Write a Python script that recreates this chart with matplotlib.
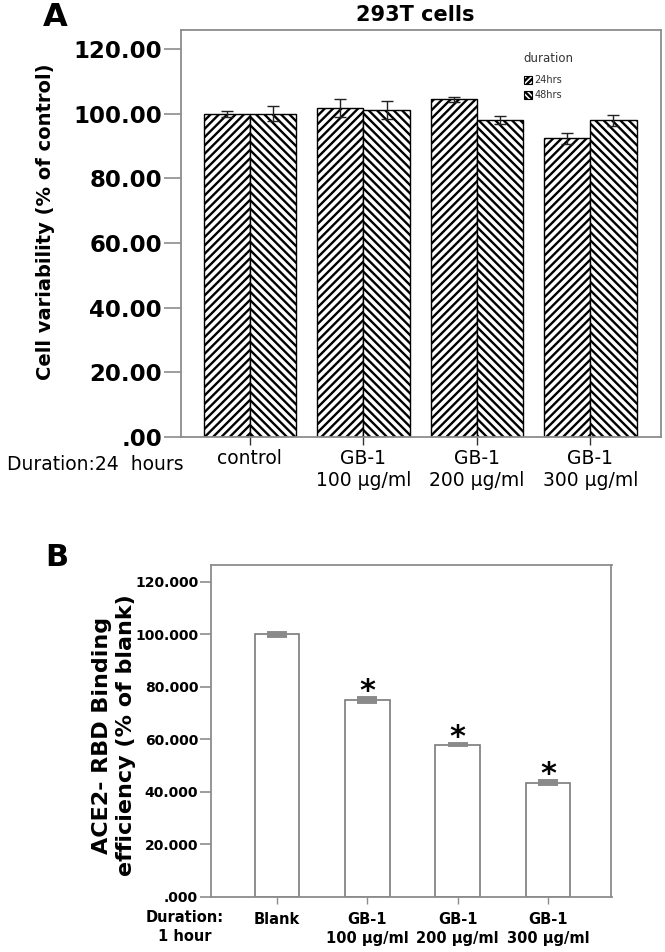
import matplotlib
matplotlib.use("Agg")
import matplotlib.pyplot as plt
from matplotlib.patches import Patch
import numpy as np

plt.rcParams['font.family'] = ['DejaVu Sans']
plt.rcParams['hatch.linewidth'] = 1.7

# ---------------- data ----------------
a_categories = ["control", "GB-1\n100 µg/ml", "GB-1\n200 µg/ml", "GB-1\n300 µg/ml"]
a_series = ["24hrs", "48hrs"]
a_24hrs = [100.0, 101.8, 104.5, 92.5]
a_24hrs_err = [0.9, 2.8, 0.7, 1.7]
a_48hrs = [100.0, 101.2, 98.1, 98.1]
a_48hrs_err = [2.3, 2.8, 1.3, 1.7]
a_yticks = [0, 20, 40, 60, 80, 100, 120]
a_yticklabels = [".00", "20.00", "40.00", "60.00", "80.00", "100.00", "120.00"]

b_categories = ["Blank", "GB-1\n100 µg/ml", "GB-1\n200 µg/ml", "GB-1\n300 µg/ml"]
b_values = [100.0, 75.0, 58.0, 43.5]
b_err = [0.6, 0.8, 0.3, 0.6]
b_star = [False, True, True, True]
b_yticks = [0, 20, 40, 60, 80, 100, 120]
b_yticklabels = [".000", "20.000", "40.000", "60.000", "80.000", "100.000", "120.000"]

W, H = 665, 952
fig = plt.figure(figsize=(W / 100, H / 100), dpi=100)

def fx(px):
    return px / W

def fy(py):
    return 1 - py / H

frame_col = '#8c8c8c'

# ---------------- Panel A ----------------
axA = fig.add_axes([fx(180.7), fy(436.7), fx(660.7) - fx(180.7), fy(30) - fy(436.7)])
x = np.arange(len(a_categories))
bw = 0.408
axA.bar(x - bw / 2, a_24hrs, bw, facecolor='white', edgecolor='black', hatch='////', linewidth=1.0, zorder=2)
axA.bar(x + bw / 2, a_48hrs, bw, facecolor='white', edgecolor='black', hatch='\\\\\\\\', linewidth=1.0, zorder=2)
axA.errorbar(x - bw / 2, a_24hrs, yerr=a_24hrs_err, fmt='none', ecolor='#222222', elinewidth=1.0, capsize=4, capthick=1.0, zorder=3)
axA.errorbar(x + bw / 2, a_48hrs, yerr=a_48hrs_err, fmt='none', ecolor='#222222', elinewidth=1.0, capsize=4, capthick=1.0, zorder=3)
axA.set_xlim(-0.61, 3.62)
axA.set_ylim(0, 126)
axA.set_yticks(a_yticks)
axA.set_yticklabels(a_yticklabels, fontsize=16.5, fontweight='bold')
axA.set_xticks(x)
axA.set_xticklabels(a_categories, fontsize=13.5, linespacing=1.2)
axA.tick_params(axis='y', length=12.5, width=1.2, color=frame_col, pad=1)
axA.tick_params(axis='x', direction='inout', length=12, width=1.0, color='#333333', pad=3)
for s in axA.spines.values():
    s.set_color(frame_col)
    s.set_linewidth(1.3)

# legend: title as text, entries as a legend
axA.text((523 - 180.7) / 480, (436.7 - 58.3) / 406.7, "duration", transform=axA.transAxes,
         fontsize=8.5, color='#333333', ha='left', va='center')
handles = [Patch(facecolor='white', edgecolor='black', hatch='//////', label=a_series[0], linewidth=0.8),
           Patch(facecolor='white', edgecolor='black', hatch='\\\\\\\\\\\\', label=a_series[1], linewidth=0.8)]
leg = axA.legend(handles=handles, loc='upper left',
                 bbox_to_anchor=((524 - 180.7) / 480, (436.7 - 75) / 406.7),
                 frameon=False, fontsize=7, handlelength=0.8, handleheight=0.9,
                 handletextpad=0.25, labelspacing=0.55, borderpad=0, borderaxespad=0)
for t in leg.get_texts():
    t.set_color('#333333')

fig.text(fx(55), fy(26), "A", fontsize=23, fontweight='bold', ha='center', va='baseline')
fig.text(fx(415), fy(15), "293T cells", fontsize=15, fontweight='bold', ha='center', va='center')
fig.text(fx(46), fy(222), "Cell variability (% of control)", fontsize=14, fontweight='bold',
         rotation=90, ha='center', va='center')
fig.text(fx(95), fy(464), "Duration:24  hours", fontsize=13.5, ha='center', va='center')

# ---------------- Panel B ----------------
axB = fig.add_axes([fx(210.7), fy(897), fx(611.5) - fx(210.7), fy(564.7) - fy(897)])
xb = np.arange(len(b_categories))
axB.bar(xb, b_values, 0.498, facecolor='white', edgecolor='#7a7a7a', linewidth=1.2, zorder=2)
axB.errorbar(xb, b_values, yerr=b_err, fmt='none', ecolor='#8a8a8a', elinewidth=2.0, capsize=7.5, capthick=2.8, zorder=3)
for xi, v, e, s in zip(xb, b_values, b_err, b_star):
    if s:
        axB.text(xi, v + e - 3.0, "*", fontsize=22, fontweight='bold', ha='center', va='bottom')
axB.set_xlim(-0.734, 3.703)
axB.set_ylim(0, 126.5)
axB.set_yticks(b_yticks)
axB.set_yticklabels(b_yticklabels, fontsize=10, fontweight='bold')
axB.set_xticks(xb)
axB.set_xticklabels(b_categories, fontsize=10.5, fontweight='bold', linespacing=1.3)
axB.tick_params(axis='y', length=8, width=1.2, color=frame_col, pad=1)
axB.tick_params(axis='x', length=5, width=1.0, color=frame_col, pad=6)
for s in axB.spines.values():
    s.set_color(frame_col)
    s.set_linewidth(1.3)

fig.text(fx(57), fy(557), "B", fontsize=22, fontweight='bold', ha='center', va='center')
fig.text(fx(114), fy(735), "ACE2- RBD Binding\nefficiency (% of blank)", fontsize=16, fontweight='bold',
         rotation=90, ha='center', va='center', linespacing=1.25)
fig.text(fx(185), fy(927), "Duration:\n1 hour", fontsize=10.5, fontweight='bold', ha='center', va='center',
         linespacing=1.3)

fig.savefig("out.png", dpi=100)
